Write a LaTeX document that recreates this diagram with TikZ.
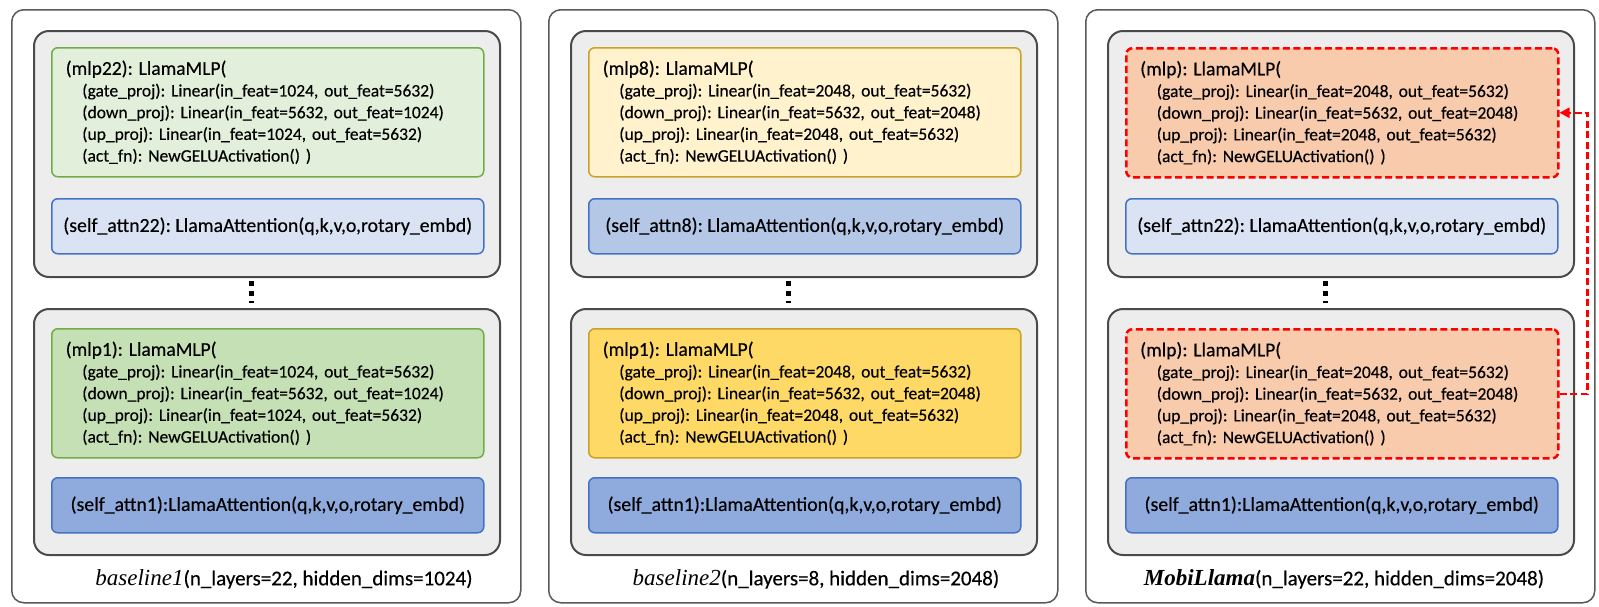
\documentclass[tikz,border=0pt]{standalone}
\usepackage{fontspec}
\setmainfont{Carlito}[FakeBold=0.35]
\newfontfamily\capserif{Liberation Serif}
\usetikzlibrary{arrows.meta}
\frenchspacing
\definecolor{panelborder}{HTML}{595959}
\definecolor{layerfill}{HTML}{EDEDED}
\definecolor{layerborder}{HTML}{4A4A4A}
\definecolor{greenborder}{HTML}{70AD47}
\definecolor{greenlight}{HTML}{E2EFDA}
\definecolor{greendark}{HTML}{C5E0B4}
\definecolor{yellowborder}{HTML}{C9A227}
\definecolor{yellowlight}{HTML}{FFF2CC}
\definecolor{yellowdark}{HTML}{FFD966}
\definecolor{blueborder}{HTML}{4472C4}
\definecolor{bluelight}{HTML}{DAE3F3}
\definecolor{bluemid}{HTML}{B4C7E7}
\definecolor{bluedark}{HTML}{8FAADC}
\definecolor{salmon}{HTML}{F8CBAD}
\definecolor{sharedred}{HTML}{FF0000}
\tikzset{
  outerpanel/.style={draw=panelborder, line width=1.5pt, rounded corners=12pt, fill=white,
    anchor=north west, inner sep=0pt, minimum width=509pt, minimum height=593pt},
  layerbox/.style={draw=layerborder, line width=2pt, rounded corners=15pt, fill=layerfill,
    anchor=north west, inner sep=0pt, minimum width=466pt, minimum height=246pt},
  mlpbox/.style={rounded corners=6pt, line width=1.5pt, anchor=north west,
    minimum width=432pt, minimum height=129pt, text width=404pt, align=left,
    inner xsep=14pt, inner ysep=0pt, font=\fontsize{17.5}{21.7}\selectfont},
  greenmlp/.style={mlpbox, draw=greenborder},
  yellowmlp/.style={mlpbox, draw=yellowborder},
  sharedmlp/.style={mlpbox, draw=sharedred, fill=salmon, line width=2.5pt, dash pattern=on 7pt off 3.5pt},
  attnbox/.style={rounded corners=6pt, line width=1.5pt, draw=blueborder, anchor=north west,
    minimum width=432pt, minimum height=55pt, inner sep=0pt, align=center,
    font=\fontsize{19.8}{22}\selectfont},
  caption/.style={font=\fontsize{21}{24}\selectfont, inner sep=0pt},
  dotmark/.style={fill=black},
  sharearrow/.style={draw=sharedred, line width=2.5pt, dash pattern=on 7pt off 3.5pt,
    -{Triangle[length=10pt,width=10pt]}},
}
\newcommand{\mlptext}[4]{\fontsize{19.5}{21.7}\selectfont (#1): LlamaMLP(\\
\fontsize{17.5}{21.7}\selectfont\hspace*{16.5pt}(gate\_proj): Linear(in\_feat=#2, out\_feat=#3)\\
\hspace*{16.5pt}(down\_proj): Linear(in\_feat=#3, out\_feat=#2)\\
\hspace*{16.5pt}(up\_proj): Linear(in\_feat=#2, out\_feat=#3)\\
\hspace*{16.5pt}(act\_fn): NewGELUActivation() )}
\newcommand{\capname}[1]{{\capserif\fontsize{23}{24}\selectfont\itshape #1}}
\newcommand{\capbold}[1]{{\capserif\fontsize{23}{24}\selectfont\bfseries\itshape #1}}
\begin{document}
\begin{tikzpicture}[x=1pt, y=-1pt]
\useasboundingbox (0,0) rectangle (1599,606);
% ---------------- panel 1 ----------------
\node[outerpanel] (p1) at (11,9) {};
\node[layerbox] (p1top) at (33,30) {};
\node[greenmlp, fill=greenlight] (p1mlpA) at (51,47) {\mlptext{mlp22}{1024}{5632}{}};
\node[attnbox, fill=bluelight] (p1attnA) at (51,198) {(self\_attn22): LlamaAttention(q,k,v,o,rotary\_embd)};
\node[layerbox] (p1bot) at (33,308) {};
\node[greenmlp, fill=greendark] (p1mlpB) at (51,328) {\mlptext{mlp1}{1024}{5632}{}};
\node[attnbox, fill=bluedark] (p1attnB) at (51,477) {(self\_attn1):LlamaAttention(q,k,v,o,rotary\_embd)};
\node[caption] (p1cap) at (284,579) {\capname{baseline1}(n\_layers=22, hidden\_dims=1024)};
\fill[dotmark] (248.5,281) rectangle (253.5,286);
\fill[dotmark] (248.5,291) rectangle (253.5,296);
\fill[dotmark] (248.5,301) rectangle (253.5,303);
% ---------------- panel 2 ----------------
\node[outerpanel] (p2) at (548,9) {};
\node[layerbox] (p2top) at (570,30) {};
\node[yellowmlp, fill=yellowlight] (p2mlpA) at (588,47) {\mlptext{mlp8}{2048}{5632}{}};
\node[attnbox, fill=bluemid] (p2attnA) at (588,198) {(self\_attn8): LlamaAttention(q,k,v,o,rotary\_embd)};
\node[layerbox] (p2bot) at (570,308) {};
\node[yellowmlp, fill=yellowdark] (p2mlpB) at (588,328) {\mlptext{mlp1}{2048}{5632}{}};
\node[attnbox, fill=bluedark] (p2attnB) at (588,477) {(self\_attn1):LlamaAttention(q,k,v,o,rotary\_embd)};
\node[caption] (p2cap) at (816,579) {\capname{baseline2}(n\_layers=8, hidden\_dims=2048)};
\fill[dotmark] (785.5,281) rectangle (790.5,286);
\fill[dotmark] (785.5,291) rectangle (790.5,296);
\fill[dotmark] (785.5,301) rectangle (790.5,303);
% ---------------- panel 3 ----------------
\node[outerpanel] (p3) at (1085,9) {};
\node[layerbox] (p3top) at (1107,30) {};
\node[sharedmlp] (p3mlpA) at (1125,47) {\mlptext{mlp}{2048}{5632}{}};
\node[attnbox, fill=bluelight] (p3attnA) at (1125,198) {(self\_attn22): LlamaAttention(q,k,v,o,rotary\_embd)};
\node[layerbox] (p3bot) at (1107,308) {};
\node[sharedmlp] (p3mlpB) at (1125,328) {\mlptext{mlp}{2048}{5632}{}};
\node[attnbox, fill=bluedark] (p3attnB) at (1125,477) {(self\_attn1):LlamaAttention(q,k,v,o,rotary\_embd)};
\node[caption] (p3cap) at (1344,579) {\capbold{MobiLlama}(n\_layers=22, hidden\_dims=2048)};
\fill[dotmark] (1322.5,281) rectangle (1327.5,286);
\fill[dotmark] (1322.5,291) rectangle (1327.5,296);
\fill[dotmark] (1322.5,301) rectangle (1327.5,303);
\draw[sharearrow] (p3mlpB.east) -- ++(28,0) |- (p3mlpA.east);
\end{tikzpicture}
\end{document}
